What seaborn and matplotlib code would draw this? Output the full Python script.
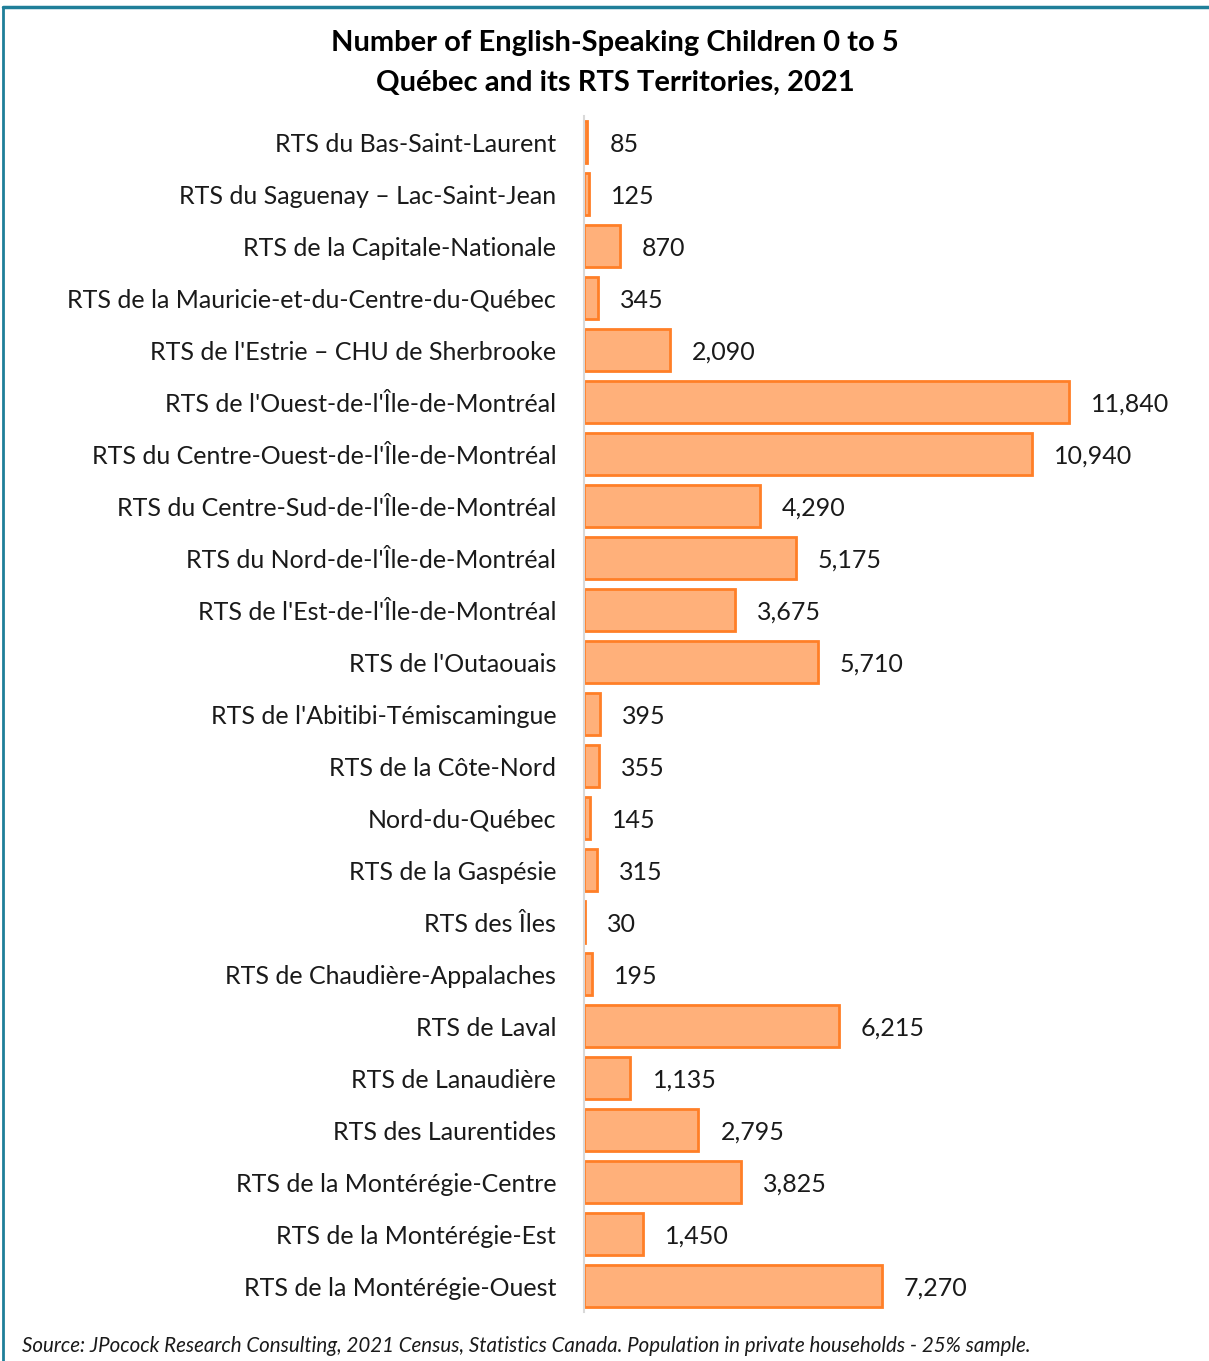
import matplotlib
matplotlib.use("Agg")
import matplotlib.pyplot as plt
import seaborn as sns
import pandas as pd
from matplotlib.lines import Line2D

regions = [
    "RTS du Bas-Saint-Laurent",
    "RTS du Saguenay – Lac-Saint-Jean",
    "RTS de la Capitale-Nationale",
    "RTS de la Mauricie-et-du-Centre-du-Québec",
    "RTS de l'Estrie – CHU de Sherbrooke",
    "RTS de l'Ouest-de-l'Île-de-Montréal",
    "RTS du Centre-Ouest-de-l'Île-de-Montréal",
    "RTS du Centre-Sud-de-l'Île-de-Montréal",
    "RTS du Nord-de-l'Île-de-Montréal",
    "RTS de l'Est-de-l'Île-de-Montréal",
    "RTS de l'Outaouais",
    "RTS de l'Abitibi-Témiscamingue",
    "RTS de la Côte-Nord",
    "Nord-du-Québec",
    "RTS de la Gaspésie",
    "RTS des Îles",
    "RTS de Chaudière-Appalaches",
    "RTS de Laval",
    "RTS de Lanaudière",
    "RTS des Laurentides",
    "RTS de la Montérégie-Centre",
    "RTS de la Montérégie-Est",
    "RTS de la Montérégie-Ouest",
]
children = [85, 125, 870, 345, 2090, 11840, 10940, 4290, 5175, 3675, 5710,
            395, 355, 145, 315, 30, 195, 6215, 1135, 2795, 3825, 1450, 7270]

title = "Number of English-Speaking Children 0 to 5\nQuébec and its RTS Territories, 2021"
source = ("Source: JPocock Research Consulting, 2021 Census, Statistics Canada. "
          "Population in private households - 25% sample.")

df = pd.DataFrame({"region": regions, "children": children})

sns.set_theme(style="white")
plt.rcParams["font.family"] = ["Lato", "DejaVu Sans"]

W, H = 1209, 1361
fig = plt.figure(figsize=(W / 100, H / 100), dpi=100)

xmax = 14000
left_px, right_px = 584, 584 + xmax * 0.04096
top_px, bot_px = 116, 1312
ax = fig.add_axes([left_px / W, 1 - bot_px / H, (right_px - left_px) / W, (bot_px - top_px) / H])

sns.barplot(data=df, y="region", x="children", orient="h", ax=ax,
            color="#FFB07A", edgecolor="#FF7F27", linewidth=2, width=0.8,
            saturation=1)
ax.set_xlim(0, xmax)
ax.set_ylim(len(regions) - 0.5, -0.5)
ax.set_xlabel("")
ax.set_ylabel("")
ax.set_xticks([])
for s in ["top", "right", "bottom"]:
    ax.spines[s].set_visible(False)
ax.spines["left"].set_color("#d9d9d9")
ax.spines["left"].set_linewidth(1.5)
ax.tick_params(axis="y", length=0, pad=20, labelsize=18, colors="#1a1a1a")
for lbl in ax.get_yticklabels():
    lbl.set_verticalalignment("center_baseline")

for i, v in enumerate(children):
    ax.text(v + 22 / 0.04096, i, f"{v:,}", va="center_baseline", ha="left",
            fontsize=18, color="#1a1a1a", clip_on=False)

fig.text(615 / W, 1 - 63 / H, title, ha="center", va="center",
         fontsize=21, fontweight="bold", color="#000000", linespacing=1.65)
fig.text(22 / W, 1 - 1346 / H, source, ha="left", va="center",
         fontsize=14.8, style="italic", color="#1a1a1a")

# frame (top and left)
fig.add_artist(Line2D([3 / W, 3 / W], [0, 1 - 7 / H], color="#1F7F99", lw=2,
                      transform=fig.transFigure))
fig.add_artist(Line2D([3 / W, 1], [1 - 7 / H, 1 - 7 / H], color="#1F7F99", lw=2.5,
                      transform=fig.transFigure))

fig.savefig("out.png", dpi=100)
